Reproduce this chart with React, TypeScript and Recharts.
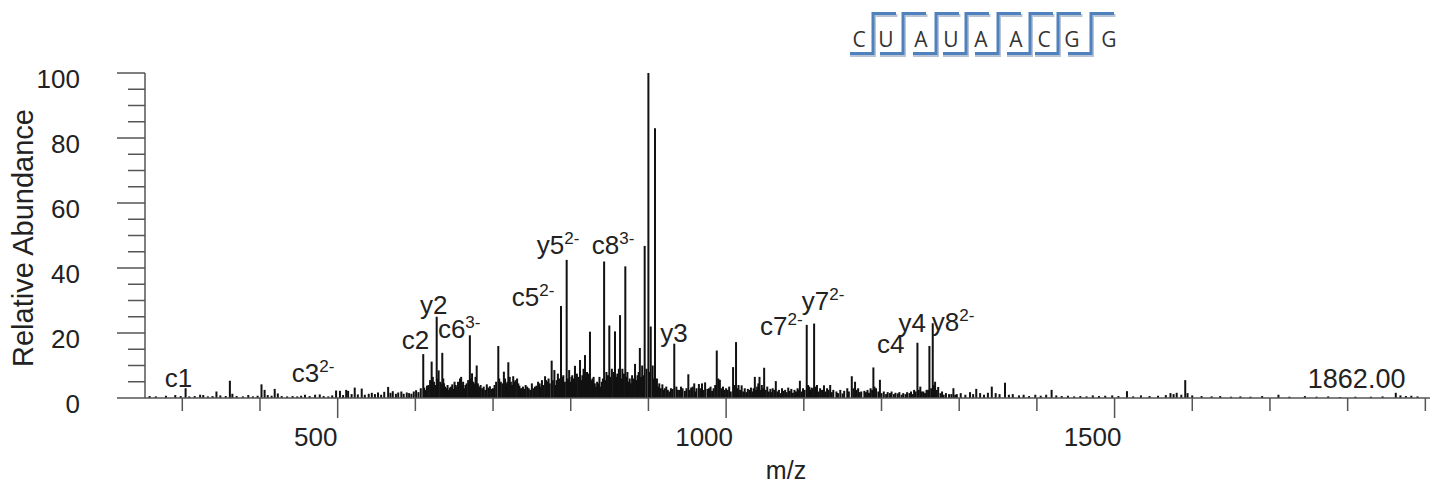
import React from 'react';
import { ComposedChart, Bar, XAxis, YAxis, ReferenceDot } from 'recharts';

// peaks as [m/z, relative abundance]
const LOW_PEAKS: [number, number][] = [
  [258, 0.6], [266, 0.5], [279, 0.7], [291, 0.9], [298, 0.6], [304.3, 3.0], [309, 0.5], [316, 0.6],
  [323, 1.0], [327, 0.9], [333, 0.5], [339, 0.6], [344, 2.0], [349, 0.8], [356, 0.6], [361.3, 5.3],
  [364.5, 1.3], [370, 0.6], [378, 0.5], [385, 0.9], [391, 0.5], [397, 0.7], [402, 4.2], [406, 2.5],
  [410, 0.9], [415, 0.7], [419, 2.8], [423, 1.4], [428, 0.6], [435, 0.5], [442, 0.6], [448, 0.5],
  [453, 0.7], [458, 1.0], [464, 0.6], [471, 1.0], [477, 1.1], [482, 0.6], [488, 0.5], [493, 0.8],
  [498, 2.3], [503, 2.2], [507, 0.9], [511, 2.5], [513.5, 2.2], [518, 1.2], [522, 3.2], [526, 1.1],
  [531, 2.9], [535, 1.0], [540, 1.3], [544, 1.6], [548, 1.2], [552, 1.7], [556, 1.0], [560, 1.9],
  [565, 3.4], [568, 1.6], [571, 2.1], [575, 1.3], [578, 1.7], [582, 2.0], [585, 1.3], [589, 1.7],
  [592, 1.5], [595, 1.3], [598, 2.0], [601, 2.4], [604, 1.8], [607, 3.0],
];

const MID_PEAKS: [number, number][] = [
  [610.2, 13.5], [613, 2.5], [617, 4.0], [621, 11.2], [624, 5.0], [627.5, 25.0], [630, 8.5], [632, 5.0],
  [634.7, 13.9], [637, 4.5], [640, 3.0], [643, 2.5], [646, 3.5], [649, 2.8], [652, 4.0], [655, 5.0],
  [657.5, 6.0], [660, 4.0], [663, 3.0], [666, 4.5], [670.2, 19.3], [673, 7.6], [676, 4.5], [679, 10.0],
  [682, 3.5], [686, 3.0], [690, 2.5], [694, 3.2], [698, 2.8], [702, 4.0], [706.8, 16.0], [710, 5.0],
  [714, 8.1], [717, 4.5], [719.7, 11.0], [723, 5.0], [726, 6.7], [729, 5.5], [731, 6.0], [734, 3.8],
  [737, 3.0], [740, 2.8], [744, 3.5], [748, 2.5], [752, 3.0], [756, 3.8], [760, 4.5], [763, 5.5],
  [767, 6.7], [770, 5.0], [773, 4.5], [775.5, 11.5], [779, 8.6], [782, 5.5], [785, 6.0], [787.5, 28.3],
  [790.5, 7.0], [794.8, 42.5], [798, 8.6], [801, 6.5], [803, 5.5], [805.5, 9.9], [808, 7.5], [812, 11.7],
  [815, 7.0], [818.4, 13.2], [821, 8.0], [824.8, 20.4], [828, 6.0], [831, 4.5], [834, 5.0], [837, 6.5],
  [840, 5.0], [843, 42.0], [846, 8.0], [849.7, 22.3], [853, 9.0], [857, 20.5], [860, 7.5], [863.5, 25.5],
  [866.5, 9.0], [870.3, 40.5], [873, 8.0], [876, 6.0], [879, 7.0], [882.8, 10.5], [886, 7.0], [889, 15.4],
  [892, 10.0], [895.2, 46.8], [900, 100], [903, 22.0], [905.5, 10.0], [908.5, 83.0], [911, 6.0], [914, 4.5],
  [918, 4.2], [921, 3.0], [925, 2.5], [929, 3.0], [933.3, 16.7], [936, 3.5], [940, 2.5], [944, 3.0],
  [947, 2.2], [951.4, 7.3], [955, 3.2], [959, 4.5], [962, 3.0], [965, 4.3], [969, 4.5], [973, 4.8],
  [976, 2.8], [980, 3.5], [984, 3.0], [988, 14.6], [990, 6.0], [992, 5.6], [996, 3.5],
];

// the dense low-level hash between the labelled ions
const MID_NOISE: [number, number][] = [
  [611.5, 3.2], [615, 3.8], [619, 5.5], [622.5, 6.5], [626, 4.0], [629, 6.0], [633, 4.5], [636, 6.0],
  [638.5, 3.5], [641.5, 4.0], [644.5, 3.2], [647.5, 4.2], [650.5, 5.0], [653.5, 3.5], [656, 4.8], [659, 6.5],
  [661.5, 5.0], [664.5, 4.0], [668, 5.5], [671.5, 6.0], [674.5, 5.0], [677.5, 6.5], [680.5, 4.5], [684, 4.0],
  [688, 3.5], [692, 4.2], [696, 3.6], [700, 3.0], [704, 5.0], [708, 6.0], [712, 4.5], [715.5, 6.0],
  [718.5, 5.0], [721.5, 6.5], [724.5, 4.0], [727.5, 5.0], [732.5, 4.5], [735.5, 3.0], [738.5, 3.5], [742, 4.0],
  [746, 3.0], [750, 4.5], [754, 3.5], [758, 5.0], [761.5, 3.5], [765, 4.0], [768.5, 5.5], [771.5, 6.0],
  [777, 5.5], [780.5, 4.0], [783.5, 7.5], [786, 4.5], [789, 6.5], [792.5, 5.0], [796.5, 6.0], [799.5, 5.0],
  [802, 7.0], [804, 6.0], [806.5, 4.5], [810, 6.5], [813.5, 5.5], [816.5, 9.0], [819.5, 6.0], [823, 7.5],
  [826.5, 5.5], [829.5, 6.5], [832.5, 3.5], [835.5, 4.5], [838.5, 3.5], [841.5, 6.0], [844.5, 5.5], [848, 7.0],
  [851.5, 6.5], [855, 8.0], [858.5, 6.5], [862, 9.0], [865, 6.0], [868.5, 7.5], [871.5, 6.5], [874.5, 5.0],
  [877.5, 4.5], [881, 6.0], [884.5, 5.5], [887.5, 8.0], [890.5, 6.5], [893.5, 7.0], [897.5, 9.0], [901.5, 8.0],
  [907, 6.0], [910, 4.0], [912.5, 3.5], [916, 3.0], [919.5, 2.5], [923, 3.5], [927, 2.0], [931, 2.8],
  [938, 2.5], [942, 3.5], [949, 3.0], [953, 2.5], [957, 3.5], [961, 2.0], [967, 3.0], [971, 2.5],
  [978, 3.0], [982, 2.2], [986, 4.0], [994, 3.0], [998, 2.5],
];

const UPPER_PEAKS: [number, number][] = [
  [1000, 3.0], [1004, 3.5], [1009, 9.5], [1012.8, 17.2], [1016, 4.0], [1020, 3.9], [1024, 3.0], [1028, 2.8],
  [1032, 3.2], [1037, 6.5], [1040, 3.5], [1043, 6.5], [1046, 4.0], [1049, 9.3], [1053, 3.5], [1057, 2.8],
  [1060, 3.0], [1064, 5.2], [1068, 2.5], [1072, 3.0], [1076, 2.5], [1080, 3.2], [1084, 2.8], [1088, 2.5],
  [1092, 3.0], [1095, 5.3], [1099, 3.0], [1103.8, 22.5], [1107, 3.5], [1110, 3.2], [1113.3, 22.9], [1117, 4.0],
  [1121, 3.0], [1126, 3.9], [1130, 3.0], [1134, 4.0], [1138, 2.5], [1142, 2.0], [1147, 2.5], [1152, 2.2],
  [1156, 3.0], [1161.8, 6.7], [1166, 5.0], [1170, 3.0], [1174, 2.0], [1178, 2.2], [1182, 2.5], [1186, 3.0],
  [1189.6, 9.4], [1193, 3.0], [1198, 5.6], [1203, 2.0], [1208, 1.8], [1213, 2.0], [1218, 1.6], [1223, 1.8],
  [1228, 1.5], [1233, 1.8], [1238, 2.0], [1242, 2.5], [1246.3, 17.0], [1250, 3.5], [1254, 2.0], [1258, 2.5],
  [1261.7, 16.0], [1266, 23.0], [1269, 5.0], [1273, 3.4], [1278, 2.0], [1283, 1.5], [1287, 1.2], [1292.6, 3.0],
  [1297, 1.2],
];

const UPPER_NOISE: [number, number][] = [
  [1002, 2.5], [1006, 2.0], [1011, 4.0], [1014.5, 3.0], [1018, 2.5], [1022, 2.0], [1026, 1.8], [1030, 2.5],
  [1034, 2.0], [1035.5, 3.0], [1038.5, 2.5], [1041.5, 4.5], [1044.5, 2.5], [1047.5, 3.0], [1051, 2.5], [1055, 2.0],
  [1059, 1.8], [1062, 2.5], [1066, 2.0], [1070, 1.5], [1074, 2.2], [1078, 1.8], [1082, 2.2], [1086, 1.6],
  [1090, 2.0], [1093.5, 2.5], [1097, 2.0], [1101, 2.5], [1105.5, 4.0], [1108.5, 2.5], [1111.5, 3.0], [1115, 3.5],
  [1119, 2.0], [1123.5, 2.5], [1128, 2.0], [1132, 2.5], [1136, 1.8], [1144, 1.5], [1150, 1.4], [1158, 2.0],
  [1164, 3.0], [1168, 2.5], [1172, 1.8], [1180, 1.8], [1184, 1.6], [1188, 2.5], [1191, 3.5], [1196, 2.0],
  [1200, 1.5], [1206, 1.2], [1211, 1.5], [1216, 1.2], [1221, 1.4], [1226, 1.0], [1231, 1.2], [1236, 1.5],
  [1240, 1.2], [1244, 2.0], [1248, 2.5], [1252, 2.0], [1256, 1.5], [1260, 2.5], [1264, 3.0], [1267.5, 4.0],
  [1271, 2.5], [1276, 1.5], [1280, 1.0], [1290, 1.2], [1295, 1.0],
];

const HIGH_PEAKS: [number, number][] = [
  [1302, 1.5], [1308, 1.0], [1314, 1.8], [1318, 1.2], [1322, 2.8], [1327, 1.5], [1332, 1.0], [1337, 1.6],
  [1342, 3.5], [1347, 1.5], [1352, 1.2], [1359, 4.7], [1364, 1.0], [1369, 1.2], [1377, 0.8], [1383, 1.0],
  [1390, 0.6], [1398, 1.0], [1405, 0.7], [1412, 1.0], [1419, 2.5], [1425, 0.8], [1432, 0.6], [1440, 0.7],
  [1448, 0.5], [1456, 0.6], [1464, 0.5], [1472, 0.8], [1480, 0.6], [1488, 0.7], [1497, 0.8], [1505, 0.6],
  [1516, 2.1], [1524, 0.5], [1534, 0.8], [1545, 0.6], [1556, 0.7], [1566, 0.9], [1572, 1.5], [1576, 1.2],
  [1580, 1.6], [1586, 1.0], [1591, 5.5], [1594, 1.5], [1600, 0.8], [1612, 0.6], [1625, 0.5], [1636, 0.6],
  [1650, 0.4], [1662, 0.5], [1675, 0.4], [1690, 0.6], [1711, 1.0], [1725, 0.4], [1745, 0.6], [1760, 0.4],
  [1775, 0.5], [1790, 0.3], [1810, 0.4], [1830, 0.4], [1845, 0.5], [1862, 1.6], [1868, 0.8], [1875, 0.6],
  [1882, 0.7], [1890, 0.5],
];

// annotated fragment ions
const ION_NAMES = ['c1', 'c3', 'c2', 'y2', 'c6', 'c5', 'y5', 'c8', 'y3', 'c7', 'y7', 'c4', 'y4', 'y8'];
const ION_CHARGES = ['', '2-', '', '', '3-', '2-', '2-', '3-', '', '2-', '2-', '', '', '2-'];
const ION_MZ = [304.3, 477, 610.2, 627.5, 670.2, 787.5, 794.8, 843, 933.3, 1103.8, 1113.3, 1246.3, 1261.7, 1266];
const PRECURSOR_MZ = 1862;
const PRECURSOR_LABEL = '1862.00';

const X_TICKS = [300, 400, 500, 600, 700, 800, 900, 1000, 1100, 1200, 1300, 1400, 1500, 1600, 1700, 1800, 1900];
const X_LABELS = [500, 1000, 1500];
const Y_TICKS = [0, 5, 10, 15, 20, 25, 30, 35, 40, 45, 50, 55, 60, 65, 70, 75, 80, 85, 90, 95, 100];
const Y_LABELS = [0, 20, 40, 60, 80, 100];
const SEQUENCE = ['C', 'U', 'A', 'U', 'A', 'A', 'C', 'G', 'G'];

// layout only
const LABEL_SHIFT: [number, number][] = [
  [-21, -1.5], [-28, -12], [-21.6, -5], [-16.7, -2.7], [-32, 3], [-49.3, 0], [-30, -6],
  [-12.4, -8], [-14, -2], [-46.7, 10], [-12.4, -13.6], [-40.6, 10.5], [-31, -14.3], [-1, 8],
];
const SEQ_X = [859, 886, 921, 951, 981, 1016, 1044, 1072, 1109];
const CUT_X = [873, 903, 936, 966, 998, 1030, 1058, 1091];

const FONT = '"Liberation Sans", Arial, sans-serif';
const INK = '#111';
const AXIS = '#555';
const STICK = 2;

const spectrum = [...LOW_PEAKS, ...MID_PEAKS, ...MID_NOISE, ...UPPER_PEAKS, ...UPPER_NOISE, ...HIGH_PEAKS]
  .map(([mz, ab]) => ({ mz, ab }))
  .sort((a, b) => a.mz - b.mz);
const abundanceAt = (mz: number) => spectrum.find((p) => p.mz === mz)?.ab ?? 0;

// centroid stick of fixed width, centred on the slot the Bar computed
const Stick = (props: any) => {
  const { x, y, width, height } = props;
  if (height == null || height <= 0) return null;
  return <rect x={x + width / 2 - STICK / 2} y={y} width={STICK} height={height} fill={INK} />;
};

const YTick = (props: any) => {
  const { x, y, payload } = props;
  const major = Y_LABELS.includes(payload.value);
  return (
    <g>
      <line x1={x - (major ? 28 : 17)} x2={x} y1={y} y2={y} stroke={AXIS} strokeWidth={1.5} />
      {major && (
        <text x={x - 65} y={y + 15} textAnchor="end" fontSize={26} fontFamily={FONT} fill="#222">
          {payload.value}
        </text>
      )}
    </g>
  );
};

const XTick = (props: any) => {
  const { x, y, payload } = props;
  const major = X_LABELS.includes(payload.value);
  return (
    <g>
      <line x1={x} x2={x} y1={y} y2={y + (major ? 20 : 13)} stroke={AXIS} strokeWidth={1.5} />
      {major && (
        <text x={x - 22} y={y + 48} textAnchor="middle" fontSize={26} fontFamily={FONT} fill="#222">
          {payload.value}
        </text>
      )}
    </g>
  );
};

const ionLabel = (i: number) => (p: any) => (
  <text x={p.cx + LABEL_SHIFT[i][0]} y={p.cy + LABEL_SHIFT[i][1]} fontSize={26} fontFamily={FONT} fill="#222">
    {ION_NAMES[i]}
    {ION_CHARGES[i] && (
      <tspan fontSize={17} dy={-10}>
        {ION_CHARGES[i]}
      </tspan>
    )}
  </text>
);

const precursorLabel = (p: any) => (
  <text x={p.cx - 88} y={p.cy - 4.5} fontSize={27} fontFamily={FONT} fill="#222">
    {PRECURSOR_LABEL}
  </text>
);

const SequenceMap = () => (
  <svg width={1432} height={80} style={{ position: 'absolute', left: 0, top: 0 }}>
    {CUT_X.map((c, i) => (
      <g key={i}>
        <polyline
          points={`${c - 23},55.5 ${c + 1.5},55.5 ${c + 1.5},15.5 ${c + 24.5},15.5`}
          fill="none"
          stroke="#b9c4d6"
          strokeWidth={3}
        />
        <polyline
          points={`${c - 23},53.5 ${c},53.5 ${c},13.5 ${c + 23},13.5`}
          fill="none"
          stroke="#4f81bd"
          strokeWidth={3}
        />
      </g>
    ))}
    {SEQUENCE.map((s, i) => (
      <text key={i} x={SEQ_X[i]} y={47} textAnchor="middle" fontSize={21} fontFamily='"Open Sans", sans-serif' fill="#333">
        {s}
      </text>
    ))}
  </svg>
);

export default function App() {
  return (
    <div style={{ position: 'absolute', left: 0, top: 0, width: 1432, height: 490, background: '#fff' }}>
      <ComposedChart width={1432} height={490} data={spectrum} margin={{ top: 73, right: 2, bottom: 62, left: 85 }}>
        <XAxis
          dataKey="mz"
          type="number"
          domain={[252, 1906]}
          ticks={X_TICKS}
          interval={0}
          tick={<XTick />}
          tickSize={0}
          tickMargin={0}
          tickLine={false}
          axisLine={{ stroke: AXIS, strokeWidth: 1.5 }}
          height={30}
          allowDataOverflow
        />
        <YAxis
          type="number"
          domain={[0, 100]}
          ticks={Y_TICKS}
          interval={0}
          tick={<YTick />}
          tickSize={0}
          tickMargin={0}
          tickLine={false}
          axisLine={{ stroke: AXIS, strokeWidth: 1.5 }}
          width={60}
        />
        <Bar dataKey="ab" fill={INK} barSize={1} shape={<Stick />} isAnimationActive={false} />
        {ION_MZ.map((mz, i) => (
          <ReferenceDot key={i} x={mz} y={abundanceAt(mz)} r={1} shape={ionLabel(i)} />
        ))}
        <ReferenceDot x={PRECURSOR_MZ} y={abundanceAt(PRECURSOR_MZ)} r={1} shape={precursorLabel} />
      </ComposedChart>
      <SequenceMap />
      <div
        style={{
          position: 'absolute', left: 23, top: 238, transform: 'translate(-50%, -50%) rotate(-90deg)',
          fontFamily: FONT, fontSize: 29, color: '#222', whiteSpace: 'nowrap',
        }}
      >
        Relative Abundance
      </div>
      <div
        style={{
          position: 'absolute', left: 786, top: 470, transform: 'translate(-50%, -50%)',
          fontFamily: FONT, fontSize: 25, color: '#222',
        }}
      >
        m/z
      </div>
    </div>
  );
}
